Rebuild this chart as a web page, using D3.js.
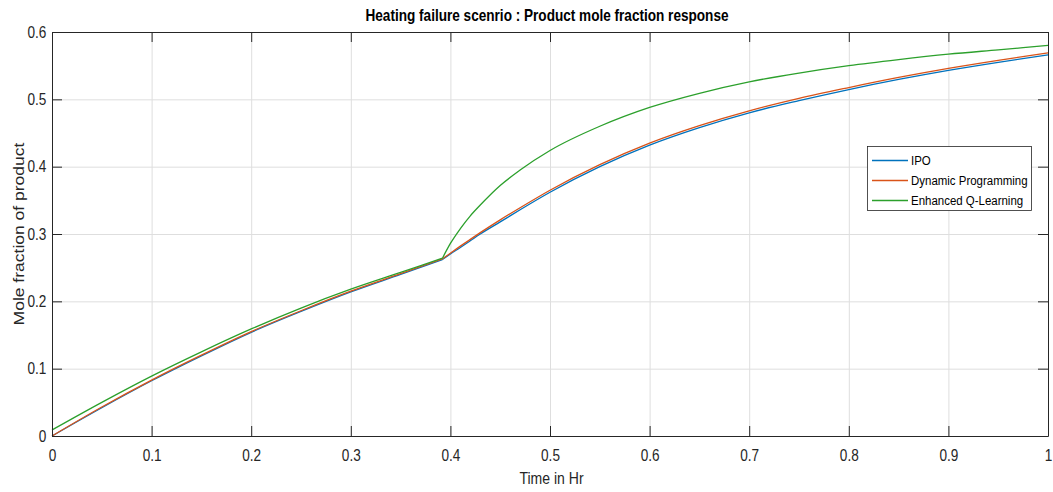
<!DOCTYPE html>
<html>
<head>
<meta charset="utf-8">
<script src="https://cdn.jsdelivr.net/npm/d3@7"></script>
<style>
  html, body { margin: 0; padding: 0; background: #fff; }
  svg { display: block; }
  text { font-family: "Liberation Sans", Arial, Helvetica, sans-serif; }
</style>
</head>
<body>
<div id="chart"></div>
<script>
// ---- data ----
const timeHr = [0, 0.05, 0.1, 0.15, 0.2, 0.25, 0.3, 0.35, 0.392, 0.40, 0.41, 0.42, 0.43, 0.45, 0.47, 0.5, 0.55, 0.6, 0.65, 0.7, 0.75, 0.8, 0.85, 0.9, 0.95, 1.0];
const ipo     = [0, 0.042, 0.082, 0.119, 0.154, 0.185, 0.214, 0.240, 0.262, 0.2705, 0.280, 0.290, 0.300, 0.318, 0.336, 0.362, 0.400, 0.432, 0.458, 0.480, 0.498, 0.5145, 0.5295, 0.543, 0.555, 0.566];
const dynProg = [0, 0.043, 0.083, 0.120, 0.155, 0.186, 0.215, 0.241, 0.263, 0.2715, 0.282, 0.292, 0.302, 0.321, 0.339, 0.365, 0.403, 0.435, 0.461, 0.483, 0.5015, 0.5175, 0.5325, 0.546, 0.558, 0.569];
const enhQL   = [0.009, 0.050, 0.089, 0.125, 0.159, 0.190, 0.218, 0.243, 0.264, 0.286, 0.308, 0.327, 0.343, 0.372, 0.395, 0.424, 0.460, 0.488, 0.509, 0.526, 0.539, 0.550, 0.559, 0.567, 0.5735, 0.580];
const kinkIndex = 8;
const seriesNames = ["IPO", "Dynamic Programming", "Enhanced Q-Learning"];
const seriesColors = ["#0072BD", "#D95319", "#2ca02c"];
const xTicks = [0, 0.1, 0.2, 0.3, 0.4, 0.5, 0.6, 0.7, 0.8, 0.9, 1];
const yTicks = [0, 0.1, 0.2, 0.3, 0.4, 0.5, 0.6];
const titleText = "Heating failure scenrio : Product mole fraction response";
const xLabelText = "Time in Hr";
const yLabelText = "Mole fraction of product";

// ---- layout ----
const W = 1053, H = 492;
const L = 52, R = 1048, T = 32, B = 436;
const SX = 0.85; // horizontal text compression
const axisCol = "#262626";

const svg = d3.select("#chart").append("svg").attr("width", W).attr("height", H);
svg.append("rect").attr("width", W).attr("height", H).attr("fill", "#fff");

const x = d3.scaleLinear().domain([0, 1]).range([L, R]);
const y = d3.scaleLinear().domain([0, 0.6]).range([B, T]);

// grid
svg.append("g").attr("transform", `translate(0,${B})`)
  .call(d3.axisBottom(x).tickValues(xTicks).tickSize(-(B - T)).tickFormat(""))
  .call(g => g.select(".domain").remove())
  .call(g => g.selectAll("line").attr("stroke", "#dedede").attr("stroke-width", 1));
svg.append("g").attr("transform", `translate(${L},0)`)
  .call(d3.axisLeft(y).tickValues(yTicks).tickSize(-(R - L)).tickFormat(""))
  .call(g => g.select(".domain").remove())
  .call(g => g.selectAll("line").attr("stroke", "#dedede").attr("stroke-width", 1));

// lines
const seriesData = [ipo, dynProg, enhQL];
const line = d3.line().x(d => x(d[0])).y(d => y(d[1])).curve(d3.curveMonotoneX);
seriesData.forEach((vals, i) => {
  const pts = timeHr.map((t, j) => [t, vals[j]]);
  const segs = [pts.slice(0, kinkIndex + 1), pts.slice(kinkIndex)];
  const p = segs.map(s => line(s)).join("");
  svg.append("path").attr("d", p).attr("fill", "none")
    .attr("stroke", seriesColors[i]).attr("stroke-width", 1.3)
    .attr("stroke-linejoin", "round");
});

// axes (ticks inward, box)
const fontTick = 16;
const gx = svg.append("g").attr("transform", `translate(0,${B})`)
  .call(d3.axisBottom(x).tickValues(xTicks).tickSizeInner(-10).tickSizeOuter(0).tickPadding(14)
    .tickFormat(d3.format("~g")));
const gy = svg.append("g").attr("transform", `translate(${L},0)`)
  .call(d3.axisLeft(y).tickValues(yTicks).tickSizeInner(-10).tickSizeOuter(0).tickPadding(6.7)
    .tickFormat(d3.format("~g")));
const gt = svg.append("g").attr("transform", `translate(0,${T})`)
  .call(d3.axisTop(x).tickValues(xTicks).tickSizeInner(-10).tickSizeOuter(0).tickFormat(""));
const gr = svg.append("g").attr("transform", `translate(${R},0)`)
  .call(d3.axisRight(y).tickValues(yTicks).tickSizeInner(-10).tickSizeOuter(0).tickFormat(""));
[gx, gy, gt, gr].forEach(g => {
  g.select(".domain").attr("stroke", axisCol).attr("stroke-width", 1);
  g.selectAll(".tick line").attr("stroke", axisCol).attr("stroke-width", 1);
  g.selectAll("text").attr("fill", axisCol).attr("font-size", fontTick)
    .attr("font-family", '"Liberation Sans", Arial, Helvetica, sans-serif')
    .attr("transform", `scale(${SX},1)`);
});

// title
svg.append("text").attr("transform", `translate(547,21) scale(${SX},1)`)
  .attr("text-anchor", "middle").attr("font-size", 16).attr("font-weight", "bold")
  .attr("fill", "#000").text(titleText);

// x label
svg.append("text").attr("transform", `translate(551.5,484) scale(${SX},1)`)
  .attr("text-anchor", "middle").attr("font-size", 16.5).attr("fill", axisCol).text(xLabelText);

// y label
svg.append("text").attr("transform", `translate(24,${(T + B) / 2}) scale(${SX},1) rotate(-90)`)
  .attr("text-anchor", "middle").attr("font-size", 17.5).attr("fill", axisCol).text(yLabelText);

// legend
const lg = svg.append("g");
lg.append("rect").attr("x", 867.5).attr("y", 146.5).attr("width", 164).attr("height", 64)
  .attr("fill", "#fff").attr("stroke", axisCol).attr("stroke-width", 0.8);
seriesNames.forEach((name, i) => {
  const cy = 160.5 + i * 20;
  lg.append("line").attr("x1", 872).attr("x2", 908).attr("y1", cy).attr("y2", cy)
    .attr("stroke", seriesColors[i]).attr("stroke-width", 1.3);
  lg.append("text").attr("transform", `translate(911,${cy}) scale(${SX},1)`)
    .attr("dy", "0.35em").attr("font-size", 13.5).attr("fill", "#000").text(name);
});
</script>
</body>
</html>
